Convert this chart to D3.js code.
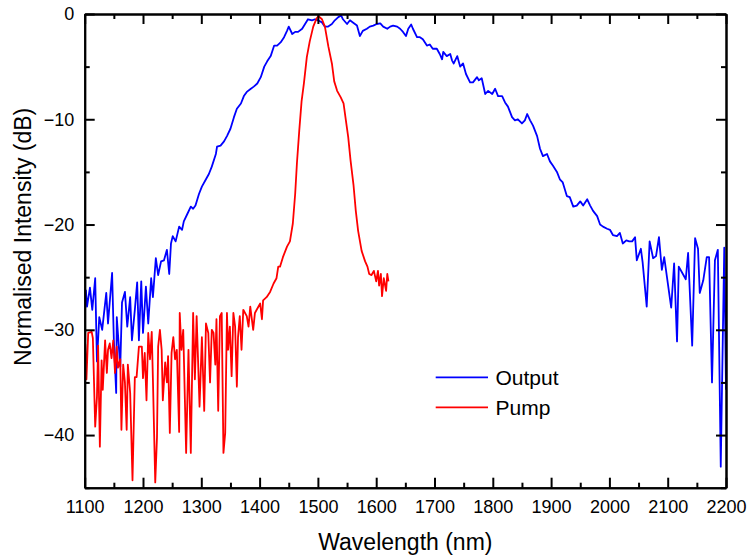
<!DOCTYPE html>
<html>
<head>
<meta charset="utf-8">
<script src="https://cdn.jsdelivr.net/npm/d3@7"></script>
<style>
  body { margin: 0; background: #fff; }
  text { font-family: "Liberation Sans", Arial, sans-serif; fill: #000; }
</style>
</head>
<body>
<div id="canvas"></div>
<script>
// Output spectrum (blue)
let outputWl = [1102, 1104, 1109, 1113, 1118, 1121, 1125, 1130, 1137, 1140, 1147, 1150, 1154, 1155, 1161, 1164,
    1169, 1173, 1178, 1181, 1186, 1190, 1193, 1197, 1200, 1205, 1209, 1214, 1217, 1222, 1226, 1231, 1236, 1241,
    1245, 1248, 1251, 1256, 1262, 1267, 1270, 1276, 1282, 1286, 1290, 1296, 1301, 1308, 1313, 1318, 1325, 1327,
    1333, 1339, 1344, 1350, 1356, 1361, 1368, 1373, 1378, 1385, 1390, 1396, 1402, 1408, 1413, 1419, 1425, 1430,
    1436, 1442, 1447, 1450, 1456, 1461, 1466, 1473, 1478, 1483, 1490, 1495, 1500, 1507, 1512, 1517, 1524, 1529,
    1535, 1540, 1543, 1550, 1555, 1560, 1567, 1572, 1577, 1584, 1589, 1595, 1601, 1607, 1612, 1619, 1624, 1629,
    1636, 1641, 1646, 1651, 1655, 1660, 1663, 1670, 1675, 1680, 1687, 1692, 1697, 1704, 1709, 1713, 1715, 1721,
    1727, 1730, 1733, 1739, 1744, 1749, 1754, 1761, 1766, 1773, 1776, 1781, 1787, 1792, 1799, 1804, 1809, 1816,
    1821, 1826, 1833, 1838, 1843, 1850, 1855, 1859, 1864, 1869, 1876, 1881, 1886, 1893, 1898, 1903, 1910, 1915,
    1920, 1927, 1932, 1938, 1944, 1950, 1955, 1962, 1967, 1972, 1979, 1984, 1989, 1996, 2001, 2006, 2013, 2018,
    2023, 2029, 2034, 2039, 2044, 2047, 2054, 2057, 2064, 2069, 2075, 2080, 2085, 2090, 2094, 2106, 2111, 2116,
    2119, 2126, 2131, 2135, 2142, 2147, 2152, 2155, 2161, 2167, 2171, 2176, 2181, 2186, 2191, 2197, 2200];
let outputDb = [-26.2, -27.8, -26.0, -28.1, -25.1, -33.0, -28.8, -30.0, -26.5, -29.4, -24.6, -31.0, -36.0, -28.8,
    -33.5, -27.4, -26.4, -29.7, -26.9, -31.0, -28.1, -25.5, -31.0, -25.4, -30.3, -25.9, -29.4, -25.1, -26.9, -23.2,
    -24.8, -23.5, -23.4, -22.4, -24.7, -21.8, -21.1, -21.6, -20.2, -20.5, -19.7, -19.0, -18.3, -18.5, -18.2, -17.1,
    -16.4, -15.7, -15.2, -14.5, -13.3, -12.6, -12.5, -12.1, -11.6, -10.9, -9.8, -9.0, -8.5, -7.8, -7.4, -7.1, -6.9,
    -6.6, -6.0, -5.0, -4.5, -4.0, -3.0, -3.0, -2.7, -2.2, -1.6, -1.2, -1.9, -1.7, -1.7, -1.4, -0.95, -0.5, -0.6,
    -0.5, -0.6, -0.8, -1.2, -1.2, -0.95, -0.6, -0.3, -0.15, -0.5, -0.95, -0.6, -0.8, -1.1, -2.1, -1.6, -1.4, -1.2,
    -1.1, -0.95, -0.9, -1.2, -1.4, -1.2, -1.1, -1.2, -1.4, -1.7, -2.1, -1.4, -1.0, -1.4, -2.2, -2.2, -2.4, -3.0,
    -2.9, -3.3, -3.3, -3.8, -4.3, -3.6, -4.0, -3.8, -4.4, -4.7, -4.0, -5.0, -4.7, -5.7, -6.5, -6.5, -6.0, -6.3,
    -6.1, -7.6, -7.3, -7.6, -7.1, -7.8, -7.8, -8.4, -8.8, -9.8, -10.1, -10.0, -10.4, -10.1, -9.5, -10.1, -10.6,
    -11.6, -12.8, -13.5, -13.3, -14.0, -14.4, -15.0, -15.7, -16.0, -17.3, -17.4, -18.3, -18.2, -17.8, -18.2, -17.6,
    -18.2, -18.7, -19.2, -20.0, -20.2, -20.4, -20.5, -21.0, -21.1, -20.8, -21.8, -21.5, -21.6, -21.6, -21.2, -23.4,
    -22.3, -23.6, -27.8, -21.6, -23.2, -23.0, -21.2, -24.3, -23.1, -27.9, -23.7, -31.1, -24.0, -24.7, -25.2, -22.7,
    -31.5, -21.3, -22.3, -26.5, -25.3, -23.1, -23.1, -35.0, -23.4, -22.4, -43.0, -22.2, -35.7];

// Pump spectrum (red)
let pumpWl = [1100, 1101, 1103, 1106, 1112, 1114, 1118, 1121, 1123, 1126, 1129, 1131, 1135, 1138, 1140, 1143, 1146,
    1149, 1152, 1155, 1157, 1161, 1163, 1166, 1169, 1172, 1174, 1178, 1182, 1186, 1189, 1193, 1198, 1200, 1203,
    1206, 1209, 1212, 1215, 1217, 1221, 1224, 1226, 1229, 1232, 1234, 1238, 1241, 1243, 1246, 1249, 1252, 1255,
    1258, 1262, 1263, 1266, 1269, 1274, 1278, 1282, 1286, 1289, 1292, 1297, 1301, 1305, 1308, 1312, 1315, 1318,
    1321, 1324, 1326, 1329, 1332, 1335, 1338, 1341, 1344, 1346, 1349, 1352, 1355, 1358, 1361, 1363, 1366, 1369,
    1372, 1378, 1381, 1384, 1389, 1392, 1395, 1401, 1404, 1406, 1412, 1418, 1424, 1429, 1432, 1435, 1440, 1447,
    1452, 1457, 1461, 1464, 1468, 1472, 1476, 1481, 1486, 1492, 1498, 1501, 1507, 1512, 1518, 1524, 1528, 1533,
    1539, 1544, 1548, 1552, 1556, 1561, 1565, 1569, 1575, 1581, 1585, 1588, 1592, 1596, 1600, 1603, 1605, 1608,
    1610, 1613, 1617, 1619, 1621];
let pumpDb = [-31.3, -31.4, -34.7, -30.3, -30.2, -30.8, -39.2, -36.4, -31.5, -41.1, -32.9, -35.7, -31.0, -34.1,
    -31.9, -31.3, -32.7, -31.0, -34.1, -31.6, -33.6, -32.8, -39.5, -33.3, -35.0, -39.5, -33.3, -36.0, -44.3, -34.5,
    -34.5, -31.6, -31.6, -34.6, -32.2, -36.7, -30.3, -32.8, -30.2, -34.7, -44.5, -40.2, -31.6, -30.0, -31.9, -36.7,
    -33.1, -35.0, -32.5, -39.8, -32.2, -30.7, -32.8, -31.9, -39.7, -28.4, -31.9, -30.0, -41.7, -31.9, -41.7, -28.4,
    -34.7, -28.7, -37.3, -30.7, -37.7, -29.4, -30.3, -35.0, -30.0, -30.3, -33.3, -29.0, -37.7, -28.7, -28.4, -41.7,
    -39.8, -28.4, -31.9, -29.7, -34.4, -28.4, -29.7, -35.4, -30.7, -28.7, -31.9, -28.1, -28.7, -29.7, -27.8, -30.0,
    -28.4, -28.1, -27.5, -29.0, -27.2, -26.9, -26.4, -25.6, -25.1, -24.0, -24.0, -23.1, -22.1, -21.6, -19.9, -17.1,
    -14.2, -11.1, -8.3, -6.6, -4.1, -2.6, -1.2, -0.4, -0.2, -0.5, -1.2, -3.1, -4.7, -6.4, -7.3, -7.9, -8.5, -10.1,
    -11.7, -13.9, -16.2, -18.7, -20.6, -22.5, -23.5, -24.0, -24.7, -24.8, -24.4, -25.4, -24.4, -25.8, -24.7, -26.8,
    -25.1, -26.3, -24.7, -25.4];

let xMajor = [1100, 1200, 1300, 1400, 1500, 1600, 1700, 1800, 1900, 2000, 2100, 2200];
let xMinor = [1150, 1250, 1350, 1450, 1550, 1650, 1750, 1850, 1950, 2050, 2150];
let yMajor = [0, -10, -20, -30, -40];
let yMinor = [-5, -15, -25, -35, -45];

let width = 748;
let height = 556;
let plotLeft = 84.7, plotRight = 726, plotTop = 14, plotBottom = 487.7;

var svg = d3.select("#canvas").append("svg")
    .attr("width", width)
    .attr("height", height);

var xScale = d3.scaleLinear().domain([1100, 2200]).range([plotLeft, plotRight]);
var yScale = d3.scaleLinear().domain([-45, 0]).range([plotBottom, plotTop]);

// data lines
var line = d3.line()
    .x(d => xScale(d[0]))
    .y(d => yScale(d[1]));

svg.append("clipPath").attr("id", "plot")
    .append("rect")
    .attr("x", plotLeft).attr("y", plotTop)
    .attr("width", plotRight - plotLeft).attr("height", plotBottom - plotTop);

svg.append("path")
    .datum(outputWl.map((w, i) => [w, outputDb[i]]))
    .attr("d", line)
    .attr("clip-path", "url(#plot)")
    .attr("fill", "none")
    .attr("stroke", "#0000ff")
    .attr("stroke-width", 1.8)
    .attr("stroke-linejoin", "round");

svg.append("path")
    .datum(pumpWl.map((w, i) => [w, pumpDb[i]]))
    .attr("d", line)
    .attr("clip-path", "url(#plot)")
    .attr("fill", "none")
    .attr("stroke", "#ff0000")
    .attr("stroke-width", 1.8)
    .attr("stroke-linejoin", "round");

// axes, all ticks pointing inward
function styleAxis(g) {
    g.select(".domain").attr("stroke", "#000").attr("stroke-width", 2);
    g.selectAll(".tick line").attr("stroke", "#000").attr("stroke-width", 2);
    g.selectAll("text").style("font-family", "'Liberation Sans', Arial, sans-serif")
        .style("font-size", "18px").attr("fill", "#000");
}

svg.append("g").attr("transform", `translate(0,${plotBottom})`)
    .call(d3.axisBottom(xScale).tickValues(xMajor).tickSize(-10).tickSizeOuter(0).tickPadding(12.5).tickFormat(d3.format("d")))
    .call(styleAxis);
svg.append("g").attr("transform", `translate(0,${plotBottom})`)
    .call(d3.axisBottom(xScale).tickValues(xMinor).tickSize(-5).tickSizeOuter(0).tickFormat(""))
    .call(styleAxis);
svg.append("g").attr("transform", `translate(0,${plotTop})`)
    .call(d3.axisTop(xScale).tickValues(xMajor).tickSize(-10).tickSizeOuter(0).tickFormat(""))
    .call(styleAxis);
svg.append("g").attr("transform", `translate(0,${plotTop})`)
    .call(d3.axisTop(xScale).tickValues(xMinor).tickSize(-5).tickSizeOuter(0).tickFormat(""))
    .call(styleAxis);

svg.append("g").attr("transform", `translate(${plotLeft},0)`)
    .call(d3.axisLeft(yScale).tickValues(yMajor).tickSize(-10).tickSizeOuter(0).tickPadding(10.5).tickFormat(d3.format("d")))
    .call(styleAxis);
svg.append("g").attr("transform", `translate(${plotLeft},0)`)
    .call(d3.axisLeft(yScale).tickValues(yMinor).tickSize(-5).tickSizeOuter(0).tickFormat(""))
    .call(styleAxis);
svg.append("g").attr("transform", `translate(${plotRight},0)`)
    .call(d3.axisRight(yScale).tickValues(yMajor).tickSize(-10).tickSizeOuter(0).tickFormat(""))
    .call(styleAxis);
svg.append("g").attr("transform", `translate(${plotRight},0)`)
    .call(d3.axisRight(yScale).tickValues(yMinor).tickSize(-5).tickSizeOuter(0).tickFormat(""))
    .call(styleAxis);

// axis titles
svg.append("text")
    .attr("x", (plotLeft + plotRight) / 2)
    .attr("y", 550)
    .attr("text-anchor", "middle")
    .style("font-size", "23px")
    .text("Wavelength (nm)");

svg.append("text")
    .attr("transform", `translate(30.5,${(plotTop + plotBottom) / 2 - 14}) rotate(-90)`)
    .attr("text-anchor", "middle")
    .style("font-size", "23px")
    .text("Normalised Intensity (dB)");

// legend
let legendNames = ["Output", "Pump"];
let legendColors = ["#0000ff", "#ff0000"];
legendNames.forEach((name, i) => {
    let ly = 377.3 + i * 30;
    svg.append("line")
        .attr("x1", 435.7).attr("x2", 488)
        .attr("y1", ly).attr("y2", ly)
        .attr("stroke", legendColors[i])
        .attr("stroke-width", 1.8);
    svg.append("text")
        .attr("x", 495.5)
        .attr("y", ly + 8)
        .style("font-size", "21px")
        .text(name);
});
</script>
</body>
</html>
